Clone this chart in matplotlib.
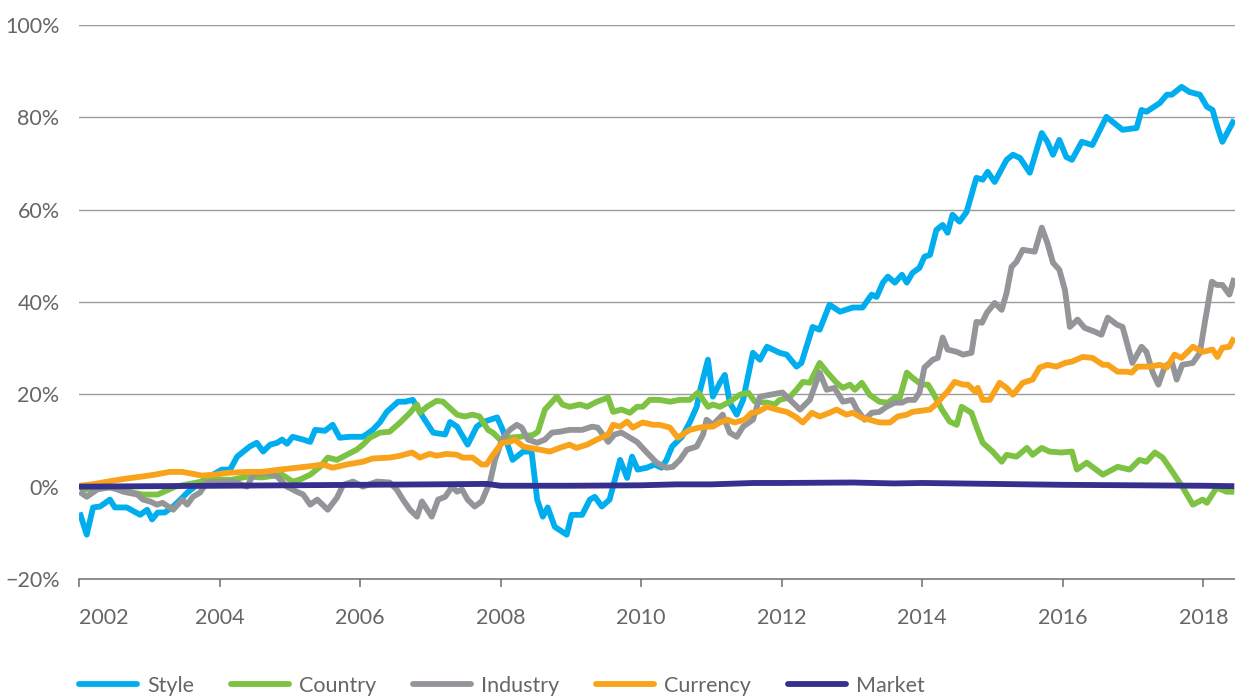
import matplotlib
matplotlib.use("Agg")
import matplotlib.pyplot as plt
import numpy as np

plt.rcParams['font.family'] = ['Lato', 'DejaVu Sans']

# dados (ano decimal, retorno acumulado em %)
style_x = [2002.01, 2002.11, 2002.20, 2002.30, 2002.44, 2002.51, 2002.68, 2002.87, 2002.97, 2003.04,
           2003.12, 2003.22, 2003.34, 2003.47, 2003.54, 2003.72, 2003.91, 2004.03, 2004.15, 2004.25,
           2004.43, 2004.53, 2004.62, 2004.72, 2004.82, 2004.89, 2004.96, 2005.04, 2005.19, 2005.29,
           2005.36, 2005.50, 2005.61, 2005.71, 2005.85, 2006.04, 2006.18, 2006.28, 2006.38, 2006.54,
           2006.64, 2006.75, 2006.89, 2007.04, 2007.21, 2007.28, 2007.38, 2007.53, 2007.66, 2007.75,
           2007.95, 2008.03, 2008.17, 2008.32, 2008.44, 2008.52, 2008.60, 2008.67, 2008.77, 2008.94,
           2009.01, 2009.16, 2009.27, 2009.34, 2009.44, 2009.55, 2009.70, 2009.80, 2009.87, 2009.95,
           2010.08, 2010.19, 2010.29, 2010.36, 2010.44, 2010.58, 2010.69, 2010.79, 2010.83, 2010.95,
           2011.02, 2011.12, 2011.19, 2011.26, 2011.36, 2011.45, 2011.59, 2011.69, 2011.79, 2011.97,
           2012.07, 2012.21, 2012.28, 2012.44, 2012.54, 2012.68, 2012.83, 2013.01, 2013.15, 2013.28,
           2013.35, 2013.44, 2013.51, 2013.61, 2013.71, 2013.78, 2013.86, 2013.96, 2014.03, 2014.11,
           2014.20, 2014.29, 2014.36, 2014.43, 2014.53, 2014.63, 2014.77, 2014.86, 2014.93, 2015.03,
           2015.20, 2015.29, 2015.39, 2015.53, 2015.70, 2015.78, 2015.86, 2015.95, 2016.05, 2016.13,
           2016.27, 2016.42, 2016.62, 2016.85, 2017.05, 2017.12, 2017.19, 2017.38, 2017.48, 2017.55,
           2017.69, 2017.80, 2017.95, 2018.05, 2018.13, 2018.20, 2018.27, 2018.44]
style_y = [-5.6, -10.4, -4.5, -4.3, -2.8, -4.5, -4.5, -6.1, -5.0, -7.1,
           -5.6, -5.6, -4.3, -2.4, -1.3, 0.9, 2.6, 3.7, 3.7, 6.5,
           8.7, 9.5, 7.6, 9.1, 9.5, 10.2, 9.3, 10.8, 10.2, 9.7,
           12.3, 12.1, 13.4, 10.6, 10.8, 10.8, 12.3, 13.9, 16.2, 18.4,
           18.4, 18.8, 15.2, 11.7, 11.3, 14.0, 13.0, 9.1, 13.0, 14.0,
           15.0, 12.3, 5.8, 7.6, 7.6, -2.8, -6.5, -4.5, -8.7, -10.4,
           -6.1, -6.1, -2.8, -2.2, -4.3, -2.8, 5.8, 1.9, 6.5, 3.7,
           4.1, 4.8, 4.1, 5.8, 8.7, 10.8, 13.9, 17.3, 20.4, 27.5,
           19.5, 22.5, 24.2, 18.2, 15.6, 18.8, 29.0, 27.5, 30.3, 29.0,
           28.6, 26.0, 26.8, 34.6, 34.0, 39.4, 37.9, 38.8, 38.8, 41.6,
           41.1, 44.2, 45.5, 44.2, 45.9, 44.2, 46.3, 47.4, 49.8, 50.2,
           55.6, 56.7, 55.0, 58.9, 57.4, 59.5, 66.9, 66.5, 68.2, 66.0,
           70.8, 71.9, 71.2, 68.0, 76.6, 74.7, 71.9, 75.1, 71.4, 70.8,
           74.7, 74.0, 80.1, 77.3, 77.7, 81.6, 81.2, 83.1, 84.9, 84.9,
           86.6, 85.5, 84.9, 82.3, 81.6, 77.9, 74.7, 79.5]

country_x = [2002.01, 2002.18, 2002.44, 2002.90, 2003.12, 2003.37, 2003.51, 2003.75, 2003.93, 2004.18,
             2004.40, 2004.60, 2004.89, 2005.00, 2005.04, 2005.14, 2005.29, 2005.43, 2005.54, 2005.67,
             2005.81, 2005.95, 2006.04, 2006.14, 2006.28, 2006.42, 2006.57, 2006.71, 2006.81, 2006.85,
             2006.95, 2007.09, 2007.18, 2007.38, 2007.49, 2007.60, 2007.70, 2007.82, 2007.89, 2007.99,
             2008.13, 2008.27, 2008.46, 2008.53, 2008.63, 2008.80, 2008.88, 2008.98, 2009.13, 2009.23,
             2009.37, 2009.53, 2009.60, 2009.72, 2009.84, 2009.94, 2010.02, 2010.12, 2010.26, 2010.41,
             2010.55, 2010.69, 2010.81, 2010.95, 2011.02, 2011.12, 2011.26, 2011.40, 2011.52, 2011.62,
             2011.79, 2011.90, 2011.97, 2012.11, 2012.21, 2012.30, 2012.40, 2012.54, 2012.64, 2012.78,
             2012.87, 2012.97, 2013.04, 2013.14, 2013.25, 2013.39, 2013.51, 2013.61, 2013.68, 2013.78,
             2013.86, 2013.99, 2014.08, 2014.15, 2014.28, 2014.39, 2014.49, 2014.56, 2014.70, 2014.77,
             2014.86, 2015.00, 2015.13, 2015.20, 2015.34, 2015.49, 2015.57, 2015.70, 2015.81, 2015.98,
             2016.13, 2016.20, 2016.34, 2016.57, 2016.78, 2016.95, 2017.09, 2017.19, 2017.31, 2017.42,
             2017.56, 2017.70, 2017.85, 2017.99, 2018.05, 2018.19, 2018.33, 2018.44]
country_y = [-0.6, -0.6, -0.2, -1.7, -1.7, 0.0, 0.4, 1.1, 1.5, 1.5,
             2.2, 2.0, 2.6, 1.5, 1.1, 1.5, 2.6, 4.3, 6.3, 5.8,
             6.9, 8.0, 9.1, 10.6, 11.7, 11.9, 13.9, 16.0, 17.8, 16.0,
             17.3, 18.6, 18.4, 15.6, 15.2, 15.6, 15.2, 12.3, 11.7, 10.2,
             10.6, 10.8, 11.2, 11.9, 16.7, 19.5, 17.8, 17.3, 17.8, 17.3,
             18.4, 19.3, 16.2, 16.7, 16.0, 17.3, 17.3, 18.8, 18.8, 18.4,
             18.8, 18.8, 20.4, 17.3, 17.8, 17.3, 18.4, 19.9, 20.4, 18.4,
             18.2, 17.8, 18.8, 19.3, 21.0, 22.7, 22.5, 26.8, 24.9, 22.5,
             21.4, 22.1, 21.0, 22.5, 19.9, 18.4, 18.2, 19.3, 19.3, 24.7,
             23.6, 22.1, 22.1, 20.4, 16.7, 14.1, 13.4, 17.3, 16.0, 13.0,
             9.5, 7.6, 5.4, 6.9, 6.5, 8.4, 6.9, 8.4, 7.6, 7.4,
             7.6, 3.7, 5.2, 2.6, 4.3, 3.7, 5.8, 5.4, 7.4, 6.3,
             3.2, 0.0, -3.9, -2.8, -3.5, -0.2, -1.1, -1.1]

industry_x = [2002.01, 2002.11, 2002.26, 2002.44, 2002.63, 2002.83, 2002.91, 2003.01, 2003.11, 2003.19,
              2003.34, 2003.47, 2003.54, 2003.62, 2003.72, 2003.82, 2004.19, 2004.39, 2004.48, 2004.67,
              2004.82, 2004.96, 2005.10, 2005.19, 2005.29, 2005.39, 2005.54, 2005.67, 2005.76, 2005.90,
              2006.04, 2006.24, 2006.42, 2006.52, 2006.61, 2006.71, 2006.81, 2006.88, 2007.02, 2007.11,
              2007.21, 2007.31, 2007.38, 2007.45, 2007.53, 2007.63, 2007.73, 2007.85, 2007.92, 2008.02,
              2008.13, 2008.23, 2008.30, 2008.39, 2008.52, 2008.63, 2008.73, 2008.84, 2008.98, 2009.16,
              2009.30, 2009.38, 2009.48, 2009.53, 2009.62, 2009.72, 2009.84, 2009.94, 2010.08, 2010.22,
              2010.36, 2010.45, 2010.55, 2010.65, 2010.79, 2010.88, 2010.93, 2011.02, 2011.16, 2011.26,
              2011.36, 2011.45, 2011.59, 2011.69, 2011.83, 2012.01, 2012.16, 2012.26, 2012.40, 2012.54,
              2012.64, 2012.75, 2012.87, 2013.00, 2013.07, 2013.18, 2013.28, 2013.39, 2013.49, 2013.61,
              2013.71, 2013.79, 2013.89, 2013.96, 2014.03, 2014.15, 2014.22, 2014.29, 2014.36, 2014.49,
              2014.58, 2014.70, 2014.77, 2014.85, 2014.92, 2015.03, 2015.13, 2015.20, 2015.27, 2015.34,
              2015.43, 2015.60, 2015.70, 2015.78, 2015.86, 2015.95, 2016.03, 2016.10, 2016.21, 2016.31,
              2016.45, 2016.55, 2016.64, 2016.77, 2016.85, 2016.95, 2016.99, 2017.12, 2017.19, 2017.28,
              2017.36, 2017.45, 2017.55, 2017.62, 2017.70, 2017.85, 2017.95, 2018.02, 2018.12, 2018.19,
              2018.27, 2018.37, 2018.44]
industry_y = [-1.1, -2.2, -0.6, 0.0, -1.1, -1.7, -2.8, -3.2, -3.9, -3.5,
              -5.0, -2.8, -3.9, -2.2, -1.3, 0.9, 1.1, 0.0, 2.6, 3.0,
              2.2, 0.0, -1.1, -1.7, -3.9, -2.8, -5.0, -2.4, 0.4, 1.1,
              0.0, 1.1, 0.9, -0.6, -2.8, -5.0, -6.5, -3.2, -6.5, -2.8,
              -2.2, 0.0, -1.1, -0.6, -2.8, -4.3, -3.2, 1.1, 5.8, 10.2,
              12.3, 13.4, 12.8, 10.2, 9.5, 10.2, 11.7, 11.9, 12.3, 12.3,
              13.0, 12.8, 10.8, 9.7, 11.3, 11.7, 10.6, 9.7, 7.4, 5.2,
              4.1, 4.3, 5.8, 8.0, 8.7, 11.3, 14.5, 13.4, 15.6, 11.7,
              10.8, 13.0, 14.5, 19.5, 19.9, 20.4, 18.2, 16.7, 18.8, 24.7,
              21.0, 21.4, 18.4, 18.8, 16.7, 14.5, 16.0, 16.2, 17.3, 18.2,
              18.2, 18.8, 18.8, 20.4, 25.8, 27.5, 27.9, 32.3, 29.7, 29.2,
              28.6, 29.0, 35.7, 35.5, 37.7, 39.8, 38.3, 42.0, 47.6, 48.7,
              51.3, 50.9, 56.1, 52.8, 48.5, 47.0, 42.6, 34.6, 36.2, 34.4,
              33.6, 32.9, 36.6, 35.1, 34.6, 29.0, 26.8, 30.3, 29.2, 24.7,
              22.1, 26.0, 27.1, 23.2, 26.4, 26.8, 29.0, 35.5, 44.4, 43.7,
              43.7, 41.6, 45.2]

currency_x = [2002.01, 2002.23, 2002.41, 2002.65, 2002.90, 2003.08, 2003.29, 2003.47, 2003.61, 2003.75,
              2003.93, 2004.12, 2004.40, 2004.60, 2004.86, 2005.10, 2005.33, 2005.47, 2005.61, 2005.81,
              2006.04, 2006.18, 2006.42, 2006.57, 2006.74, 2006.85, 2006.99, 2007.09, 2007.23, 2007.38,
              2007.46, 2007.60, 2007.73, 2007.80, 2007.89, 2008.02, 2008.13, 2008.20, 2008.32, 2008.42,
              2008.56, 2008.70, 2008.84, 2008.98, 2009.08, 2009.23, 2009.37, 2009.53, 2009.60, 2009.70,
              2009.80, 2009.88, 2010.02, 2010.17, 2010.26, 2010.41, 2010.52, 2010.69, 2010.83, 2010.93,
              2011.02, 2011.12, 2011.23, 2011.33, 2011.47, 2011.57, 2011.66, 2011.79, 2011.93, 2012.07,
              2012.19, 2012.30, 2012.43, 2012.54, 2012.68, 2012.78, 2012.92, 2013.01, 2013.14, 2013.25,
              2013.39, 2013.54, 2013.65, 2013.78, 2013.86, 2014.11, 2014.22, 2014.29, 2014.36, 2014.46,
              2014.58, 2014.65, 2014.75, 2014.79, 2014.86, 2014.96, 2015.10, 2015.20, 2015.29, 2015.43,
              2015.57, 2015.67, 2015.78, 2015.91, 2016.03, 2016.13, 2016.28, 2016.42, 2016.57, 2016.64,
              2016.78, 2016.91, 2016.98, 2017.06, 2017.24, 2017.38, 2017.48, 2017.59, 2017.69, 2017.85,
              2017.99, 2018.13, 2018.20, 2018.27, 2018.37, 2018.44]
currency_y = [0.2, 0.6, 1.1, 1.7, 2.2, 2.6, 3.2, 3.2, 2.8, 2.4,
              2.6, 3.0, 3.2, 3.2, 3.7, 4.1, 4.5, 4.8, 4.1, 4.8,
              5.4, 6.1, 6.3, 6.7, 7.4, 6.3, 7.1, 6.7, 7.1, 6.9,
              6.3, 6.3, 4.8, 4.8, 6.9, 9.5, 9.7, 10.2, 8.7, 8.4,
              8.0, 7.6, 8.4, 9.1, 8.4, 9.1, 10.2, 11.3, 13.4, 13.0,
              14.1, 12.8, 13.9, 13.4, 13.4, 12.8, 10.6, 12.3, 12.8, 13.0,
              13.0, 13.9, 14.5, 13.9, 14.5, 16.0, 16.2, 17.3, 16.7, 16.2,
              15.2, 13.9, 16.0, 15.2, 16.0, 16.7, 15.6, 16.0, 14.9, 14.5,
              13.9, 13.9, 15.2, 15.6, 16.2, 16.7, 18.2, 19.5, 20.6, 22.7,
              22.1, 22.1, 20.6, 21.4, 18.8, 18.8, 22.5, 21.4, 19.9, 22.5,
              23.2, 25.8, 26.4, 26.0, 26.8, 27.1, 28.1, 27.9, 26.4, 26.4,
              24.9, 24.9, 24.7, 26.0, 26.0, 26.4, 25.8, 28.6, 27.9, 30.3,
              29.2, 29.7, 28.1, 30.1, 30.3, 32.3]

market_x = [2002.0, 2003.0, 2004.0, 2005.0, 2006.0, 2007.0, 2007.8, 2008.0, 2009.0, 2010.0,
            2010.5, 2011.0, 2011.6, 2012.0, 2013.0, 2013.6, 2014.0, 2015.0, 2016.0, 2017.0,
            2018.0, 2018.44]
market_y = [0.0, 0.1, 0.2, 0.3, 0.4, 0.5, 0.6, 0.2, 0.2, 0.3,
            0.5, 0.5, 0.8, 0.8, 0.9, 0.7, 0.8, 0.6, 0.4, 0.3,
            0.2, 0.1]

labels = ["Style", "Country", "Industry", "Currency", "Market"]
cores = ["#00AEEF", "#7DC242", "#939598", "#F8A31B", "#352F8E"]
year_ticks = [2002, 2004, 2006, 2008, 2010, 2012, 2014, 2016, 2018]
pct_ticks = [-20, 0, 20, 40, 60, 80, 100]

fig = plt.figure(figsize=(12.35, 6.98), dpi=100)
ax = fig.add_axes([79/1235, 1-579/698, 1-79/1235, (579-25)/698])

series = [(style_x, style_y), (country_x, country_y), (industry_x, industry_y),
          (currency_x, currency_y), (market_x, market_y)]
lw = 4.2
for (xs, ys), lab, c in zip(series, labels, cores):
    ax.plot(xs, ys, color=c, lw=lw, label=lab, solid_joinstyle='round', solid_capstyle='butt', zorder=3)

ax.set_xlim(2002, 2018.45)
ax.set_ylim(-20, 100)

for v in pct_ticks[2:]:
    ax.axhline(v, color="#9b9b9b", lw=1.0, zorder=1)

for s in ["top", "right", "left"]:
    ax.spines[s].set_visible(False)
ax.spines["bottom"].set_color("#6e6e6e")
ax.spines["bottom"].set_linewidth(1.1)

fs = 15.5
ax.set_yticks(pct_ticks)
ax.set_yticklabels([("\u2212" + str(-v) if v < 0 else str(v)) + "%" for v in pct_ticks])
ax.tick_params(axis="y", length=0, pad=14, labelsize=fs, labelcolor="#666666")
ax.set_xticks(year_ticks)
ax.set_xticklabels([str(y) for y in year_ticks])
ax.tick_params(axis="x", length=6, width=1.1, color="#6e6e6e", direction="out", pad=15,
               labelsize=fs, labelcolor="#666666")
ax.get_xticklabels()[0].set_horizontalalignment("left")

leg = fig.legend(loc="center left", bbox_to_anchor=(79/1235, 1-686/698), ncol=5, frameon=False,
                 fontsize=fs, handlelength=2.7, handletextpad=0.47, columnspacing=1.7,
                 borderpad=0, borderaxespad=0)
for t in leg.get_texts():
    t.set_color("#666666")
for h in leg.get_lines():
    h.set_linewidth(lw)
    h.set_solid_capstyle("round")

fig.savefig("out.png", dpi=100)
